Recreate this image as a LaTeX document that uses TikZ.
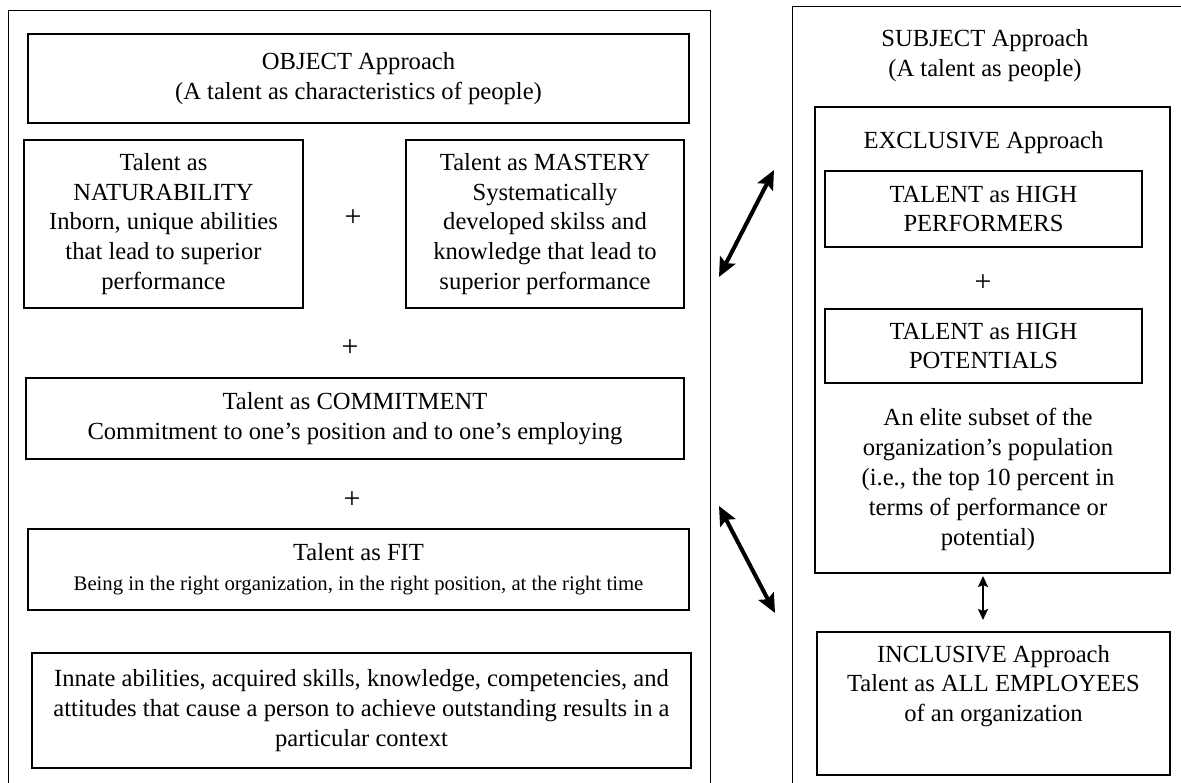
\documentclass[tikz,border=0pt]{standalone}
\usepackage{fontspec}
\setmainfont{Liberation Serif}
\usetikzlibrary{positioning,arrows.meta}

\begin{document}
\begin{tikzpicture}[
  x=0.02cm, y=-0.02cm,
  every node/.style={align=center, font=\fontsize{14}{17}\selectfont},
  box/.style={draw, line width=0.7pt, inner sep=0pt},
  plus/.style={font=\fontsize{17}{17}\selectfont},
  link/.style={{Stealth[length=3.8mm, width=3.4mm, inset=0.7mm]}-{Stealth[length=3.8mm, width=3.4mm, inset=0.7mm]},
    line width=2.3pt},
  minilink/.style={{Stealth[length=2.2mm, width=2mm, inset=0.4mm]}-{Stealth[length=2.2mm, width=2mm, inset=0.4mm]},
    line width=1.1pt}
]
  \clip (0,0) rectangle (1181,783);
  \fill[white] (0,0) rectangle (1181,783);

  % the two panels (open at the bottom)
  \node[box, anchor=north west, minimum width=14.04cm, minimum height=16cm] (objpanel) at (8,10) {};
  \node[box, anchor=north west, minimum width=9cm, minimum height=16cm] (subjpanel) at (792,6) {};

  % object approach
  \node[box, minimum width=13.22cm, minimum height=1.78cm] (obj) at (358.5,78.5)
    {OBJECT Approach\\(A talent as characteristics of people)};
  \node[box, minimum width=5.58cm, minimum height=3.36cm] (nat) at (163.5,224)
    {Talent as\\NATURABILITY\\Inborn, unique abilities\\that lead to superior\\performance};
  \node[box, minimum width=5.56cm, minimum height=3.36cm] (mas) at (545,224)
    {Talent as MASTERY\\Systematically\\developed skilss and\\knowledge that lead to\\superior performance};
  \node[plus] (plusa) at (353,218) {+};
  \node[plus] (plusb) at (350,348) {+};
  \node[box, minimum width=13.16cm, minimum height=1.62cm] (com) at (355,418.5)
    {Talent as COMMITMENT\\Commitment to one’s position and to one’s employing};
  \node[plus] (plusc) at (352,500) {+};
  \node[box, minimum width=13.22cm, minimum height=1.62cm] (fit) at (358.5,569.5)
    {Talent as FIT\\{\fontsize{11.8}{17}\selectfont Being in the right organization, in the right position, at the right time}};
  \node[box, minimum width=13.18cm, minimum height=2.3cm] (inn) at (361.5,710.5)
    {Innate abilities, acquired skills, knowledge, competencies, and\\attitudes that cause a person to achieve outstanding results in a\\particular context};

  % subject approach
  \node (subj) at (985,56) {SUBJECT Approach\\(A talent as people)};
  \node[box, minimum width=7.1cm, minimum height=9.32cm] (excl) at (992.5,340) {};
  \node (excltitle) at (983.5,143) {EXCLUSIVE Approach};
  \node[box, minimum width=6.34cm, minimum height=1.52cm] (perf) at (983.5,209)
    {TALENT as HIGH\\PERFORMERS};
  \node[plus] (plusd) at (983,283) {+};
  \node[box, minimum width=6.34cm, minimum height=1.48cm] (pot) at (983.5,346)
    {TALENT as HIGH\\POTENTIALS};
  \node (elite) at (988,479.5)
    {An elite subset of the\\organization’s population\\(i.e., the top 10 percent in\\terms of performance or\\potential)};
  \node[box, minimum width=7.06cm, minimum height=2.86cm] (incl) at (993.5,703.5) {};
  \node (incltxt) at (993.5,686)
    {INCLUSIVE Approach\\Talent as ALL EMPLOYEES\\of an organization};

  % links between the approaches
  \coordinate (la) at (719,277);
  \coordinate (ra) at (774,170);
  \coordinate (lb) at (719,506);
  \coordinate (rb) at (775,613);
  \coordinate (ea) at (983,576);
  \coordinate (eb) at (983,620);
  \draw[link] (la) -- (ra);
  \draw[link] (lb) -- (rb);
  \draw[minilink] (ea) -- (eb);
\end{tikzpicture}
\end{document}
